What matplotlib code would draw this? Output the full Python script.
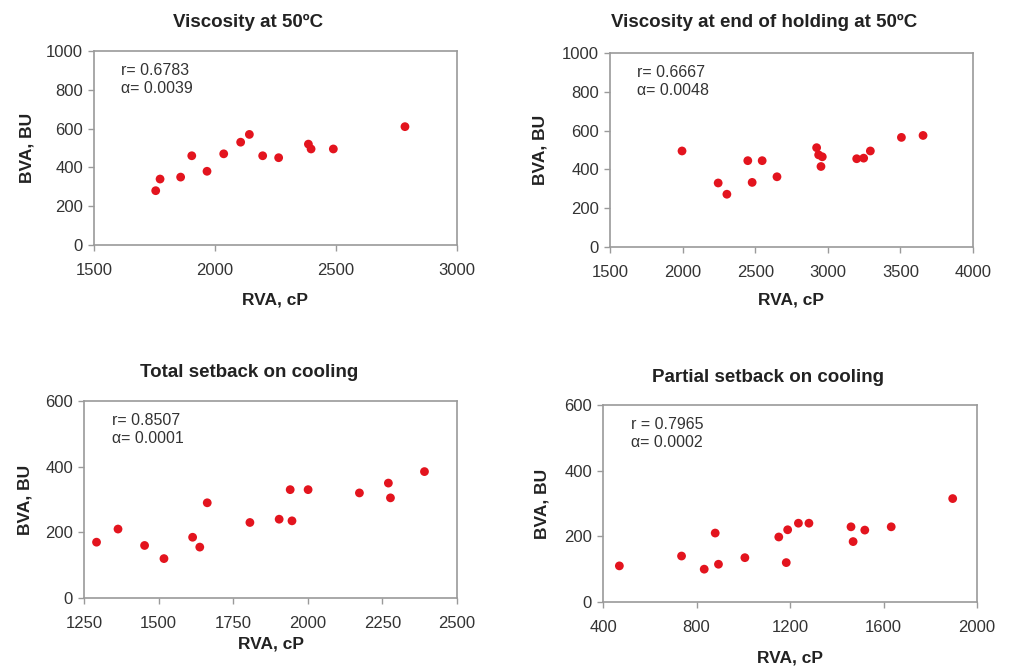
import matplotlib
matplotlib.use("Agg")
import matplotlib.pyplot as plt

plt.rcParams['font.family'] = ['Liberation Sans', 'DejaVu Sans']

# ---- data ----
titles = ["Viscosity at 50ºC", "Viscosity at end of holding at 50ºC",
          "Total setback on cooling", "Partial setback on cooling"]
stats = ["r= 0.6783\nα= 0.0039", "r= 0.6667\nα= 0.0048",
         "r= 0.8507\nα= 0.0001", "r = 0.7965\nα= 0.0002"]

rva_visc50 = [1755, 1773, 1858, 1904, 1967, 2036, 2106, 2142, 2197, 2263, 2386, 2397, 2489, 2785]
bva_visc50 = [280, 340, 350, 460, 380, 470, 530, 570, 460, 450, 520, 495, 495, 610]

rva_hold = [1996, 2245, 2305, 2449, 2479, 2548, 2650, 2923, 2937, 2962, 2953, 3199, 3247, 3293, 3507, 3656]
bva_hold = [495, 330, 272, 445, 333, 445, 362, 512, 475, 465, 415, 455, 458, 495, 565, 575]

rva_total = [1292, 1364, 1453, 1518, 1614, 1638, 1663, 1806, 1904, 1941, 1947, 2001, 2173, 2270, 2277, 2391]
bva_total = [170, 210, 160, 120, 185, 155, 290, 230, 240, 330, 235, 330, 320, 350, 305, 385]

rva_partial = [470, 736, 833, 880, 894, 1007, 1152, 1184, 1190, 1236, 1281, 1461, 1470, 1520, 1633, 1896]
bva_partial = [110, 140, 100, 210, 115, 135, 198, 120, 220, 240, 240, 229, 184, 219, 229, 315]

xticks_list = [[1500, 2000, 2500, 3000], [1500, 2000, 2500, 3000, 3500, 4000],
               [1250, 1500, 1750, 2000, 2250, 2500], [400, 800, 1200, 1600, 2000]]
yticks_list = [[0, 200, 400, 600, 800, 1000], [0, 200, 400, 600, 800, 1000],
               [0, 200, 400, 600], [0, 200, 400, 600]]
xs = [rva_visc50, rva_hold, rva_total, rva_partial]
ys = [bva_visc50, bva_hold, bva_total, bva_partial]

# ---- layout (pixels) ----
W, H = 1010, 669
boxes = [(94, 457, 51, 245), (610, 973, 53, 247), (84, 457, 401, 598), (603, 977, 405, 602)]
title_pos = [(0.424, 1.124), (0.424, 1.134), (0.442, 1.122), (0.44, 1.117)]
ylab_x = [-0.163, -0.171, -0.137, -0.142]
xlab_y = [-0.247, -0.237, -0.193, -0.244]

fig = plt.figure(figsize=(W / 100, H / 100), dpi=100)
tick_col = '#333333'
spine_col = '#9a9a9a'

for i in range(4):
    l, r, t, b = boxes[i]
    ax = fig.add_axes([l / W, 1 - b / H, (r - l) / W, (b - t) / H])
    ax.scatter(xs[i], ys[i], s=40, color='#e3141e', edgecolors='none', zorder=3)
    ax.set_xlim(xticks_list[i][0], xticks_list[i][-1])
    ax.set_ylim(yticks_list[i][0], yticks_list[i][-1])
    ax.set_xticks(xticks_list[i])
    ax.set_yticks(yticks_list[i])
    for sp in ax.spines.values():
        sp.set_color(spine_col)
        sp.set_linewidth(1.2)
    ax.tick_params(axis='both', colors=spine_col, labelcolor=tick_col,
                   labelsize=12, length=4, width=1)
    ax.tick_params(axis='x', pad=9)
    ax.tick_params(axis='y', pad=4)
    ax.set_title(titles[i], x=title_pos[i][0], y=title_pos[i][1], pad=0,
                 fontsize=13.5, fontweight='bold', color='#222222')
    ax.set_xlabel("RVA, cP", fontsize=12.5, fontweight='bold', color='#222222', va='top')
    ax.set_ylabel("BVA, BU", fontsize=12.5, fontweight='bold', color='#222222')
    ax.xaxis.set_label_coords(0.5, xlab_y[i])
    ax.yaxis.set_label_coords(ylab_x[i], 0.5)
    ax.text(0.075, 0.94, stats[i], transform=ax.transAxes, va='top', ha='left',
            fontsize=11.5, color='#333333', linespacing=1.25)

fig.savefig("out.png", dpi=100)
